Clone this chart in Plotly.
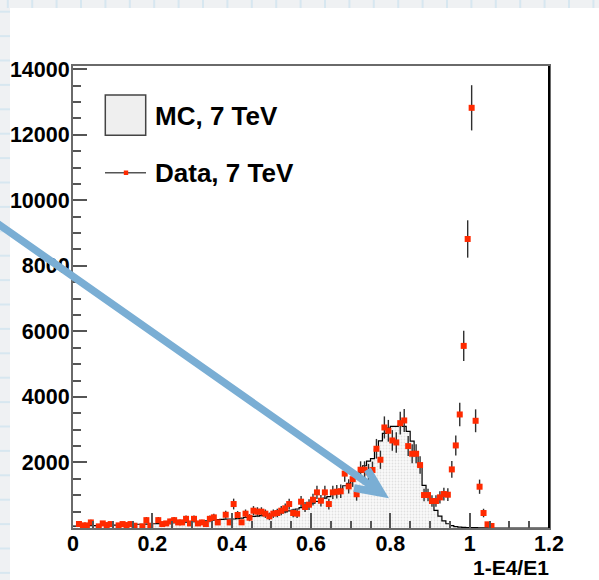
import plotly.graph_objects as go

# ---- histogram binning: 120 bins of width 0.01 on [0, 1.2] ----
bin_width = 0.01
bin_edges = [round(i * bin_width, 3) for i in range(121)]
bin_centers = [round(e + bin_width / 2, 4) for e in bin_edges[:-1]]

# ---- MC, 7 TeV (filled histogram, counts per bin) ----
mc_counts = [
    60, 65, 70, 70, 75, 75, 80, 85, 85, 90,            # 0.00 - 0.09
    90, 95, 100, 105, 105, 110, 115, 115, 120, 125,    # 0.10 - 0.19
    130, 135, 140, 145, 150, 160, 165, 170, 175, 180,  # 0.20 - 0.29
    190, 195, 205, 215, 235, 245, 255, 265, 270, 275,  # 0.30 - 0.39
    275, 285, 300, 320, 340, 355, 365, 375, 390, 405,  # 0.40 - 0.49
    420, 440, 460, 490, 520, 545, 580, 620, 660, 700,  # 0.50 - 0.59
    760, 810, 860, 910, 960, 1040, 1090, 1180, 1290, 1360,      # 0.60 - 0.69
    1430, 1560, 1700, 1900, 2040, 2120, 2400, 2660, 2890, 3050,  # 0.70 - 0.79
    3100, 3100, 3130, 3100, 2950, 2650, 2280, 1880, 1300, 980,   # 0.80 - 0.89
    750, 540, 360, 220, 130, 70, 40, 25, 20, 15,       # 0.90 - 0.99
    12, 10, 8, 5, 3, 0, 0, 0, 0, 0,                    # 1.00 - 1.09
    0, 0, 0, 0, 0, 0, 0, 0, 0, 0,                      # 1.10 - 1.19
]

# ---- Data, 7 TeV (points with uncertainties) ----
data_x = [
    0.015, 0.025, 0.035, 0.045, 0.065, 0.075, 0.085, 0.095, 0.115, 0.125,
    0.135, 0.145, 0.155, 0.175, 0.185, 0.195, 0.215, 0.225, 0.235, 0.245,
    0.255, 0.265, 0.275, 0.285, 0.295, 0.305, 0.315, 0.325, 0.335, 0.345,
    0.355, 0.365, 0.385, 0.395, 0.405, 0.415, 0.425, 0.435, 0.445, 0.455,
    0.465, 0.475, 0.485, 0.495, 0.505, 0.515, 0.525, 0.535, 0.545, 0.555,
    0.565, 0.575, 0.585, 0.595, 0.605, 0.615, 0.625, 0.635, 0.645, 0.655,
    0.665, 0.675, 0.685, 0.695, 0.705, 0.715, 0.725, 0.735, 0.745, 0.755,
    0.765, 0.775, 0.785, 0.795, 0.805, 0.815, 0.825, 0.835, 0.845, 0.855,
    0.865, 0.875, 0.885, 0.895, 0.905, 0.915, 0.925, 0.935, 0.945, 0.955,
    0.965, 0.975, 0.985, 0.995, 1.005, 1.015, 1.025, 1.035, 1.045, 1.055,
]
data_y = [
    122, 80, 80, 170, 50, 140, 90, 120, 80, 120,
    90, 120, 70, 50, 240, 70, 240, 120, 140, 200,
    240, 170, 170, 280, 140, 280, 140, 170, 120, 280,
    325, 170, 405, 170, 731, 396, 173, 437, 315, 528,
    498, 498, 437, 356, 437, 457, 528, 600, 731, 457,
    437, 803, 640, 711, 864, 1087, 833, 1087, 731, 1087,
    1107, 1120, 1660, 1270, 1490, 1030, 1778, 1778, 1700, 1770,
    2418, 2083, 3068, 2967, 2672, 2611, 3200, 3282, 2499, 2266,
    2266, 1920, 1006, 1006, 823, 823, 935, 1036, 1016, 1788,
    2520, 3465, 5558, 8821, 12824, 3272, 1260, 457, 112, 61,
]
data_err = [
    67, 55, 55, 80, 43, 72, 58, 67, 55, 67,
    58, 67, 51, 43, 95, 51, 95, 67, 72, 86,
    95, 80, 80, 102, 72, 102, 72, 80, 67, 102,
    110, 80, 123, 80, 165, 121, 80, 128, 108, 140,
    136, 136, 128, 115, 128, 130, 140, 149, 165, 130,
    128, 173, 154, 163, 179, 201, 176, 201, 165, 201,
    203, 204, 249, 217, 235, 196, 257, 257, 252, 257,
    300, 278, 338, 332, 315, 312, 345, 349, 305, 290,
    290, 267, 193, 193, 175, 175, 187, 196, 194, 258,
    306, 359, 460, 570, 690, 349, 217, 130, 65, 48,
]

x_tick_step = 0.2
y_tick_values = [2000, 4000, 6000, 8000, 10000, 12000, 14000]

FONT = "Liberation Sans, Arial, Helvetica, sans-serif"
RED = "#ff2a00"
ARROW = "#7aaed4"

# frame of the plotting area in page pixels
FL, FR, FT, FB = 73, 549, 66, 528
FW, FH = FR - FL, FB - FT


def px(x):
    return (x - FL) / FW


def py(y):
    return (FB - y) / FH


fig = go.Figure()

fig.add_trace(go.Bar(
    x=bin_centers, y=mc_counts, width=bin_width,
    marker=dict(color="#f8f8f8", line_width=0,
                pattern=dict(shape=".", fgcolor="#c6c6c6", bgcolor="#fafafa",
                             size=3, solidity=0.3)),
    hoverinfo="skip", showlegend=False,
))

fig.add_trace(go.Scatter(
    x=bin_edges, y=mc_counts + [mc_counts[-1]], mode="lines",
    line=dict(color="black", width=1.2, shape="hv"),
    hoverinfo="skip", showlegend=False,
))

fig.add_trace(go.Scatter(
    x=data_x, y=data_y, mode="markers",
    marker=dict(symbol="square", size=6, color=RED, line_width=0),
    error_y=dict(type="data", array=data_err, visible=True,
                 color="#2f2f2f", thickness=1.4, width=0),
    showlegend=False,
))

shapes = []

# slide background strips with faint grid paper lines
strip = "#eff1f3"
gridc = "#d7e7f0"
shapes.append(dict(type="rect", xref="paper", yref="paper", layer="below",
                   x0=px(0), x1=px(10), y0=py(580), y1=py(0),
                   fillcolor=strip, line_width=0))
shapes.append(dict(type="rect", xref="paper", yref="paper", layer="below",
                   x0=px(0), x1=px(599), y0=py(8), y1=py(0),
                   fillcolor=strip, line_width=0))
gx = 7.8
while gx < 599:
    shapes.append(dict(type="line", xref="paper", yref="paper", layer="below",
                       x0=px(gx), x1=px(gx), y0=py(0), y1=py(8),
                       line=dict(color=gridc, width=2)))
    gx += 24.4
gy = 11.7
while gy < 580:
    shapes.append(dict(type="line", xref="paper", yref="paper", layer="below",
                       x0=px(0), x1=px(10), y0=py(gy), y1=py(gy),
                       line=dict(color=gridc, width=2)))
    gy += 24.4

# right frame edge
shapes.append(dict(type="line", xref="paper", yref="paper",
                   x0=1, x1=1, y0=0, y1=1, line=dict(color="black", width=2)))

# legend swatches
shapes.append(dict(type="rect", xref="paper", yref="paper",
                   x0=px(105.3), x1=px(145.7), y0=py(135.3), y1=py(95),
                   fillcolor="#efefef", line=dict(color="#444", width=1.5)))
shapes.append(dict(type="line", xref="paper", yref="paper",
                   x0=px(105), x1=px(146), y0=py(172.7), y1=py(172.7),
                   line=dict(color="#555", width=1.5)))
shapes.append(dict(type="rect", xref="paper", yref="paper",
                   x0=px(123.8), x1=px(128.2), y0=py(175), y1=py(170.5),
                   fillcolor=RED, line_width=0))

# highlight arrow
tip = (381.5, 493)
shapes.append(dict(
    type="path", xref="paper", yref="paper", layer="above",
    path=(f"M {px(-6)},{py(221)} L {px(tip[0])},{py(tip[1])} "
          f"M {px(354)},{py(488)} L {px(tip[0])},{py(tip[1])} L {px(367.5)},{py(469.5)}"),
    line=dict(color=ARROW, width=7.5),
))

annotations = [
    dict(text="MC, 7 TeV", xref="paper", yref="paper", x=px(153), y=py(116),
         xanchor="left", yanchor="middle", showarrow=False,
         font=dict(family=FONT, size=26, color="black", weight="bold")),
    dict(text="Data, 7 TeV", xref="paper", yref="paper", x=px(153), y=py(173),
         xanchor="left", yanchor="middle", showarrow=False,
         font=dict(family=FONT, size=26, color="black", weight="bold")),
    dict(text="1-E4/E1", xref="paper", yref="paper", x=px(551), y=py(567),
         xanchor="right", yanchor="middle", showarrow=False,
         font=dict(family=FONT, size=21, color="black", weight="bold")),
]

tickfont = dict(family=FONT, size=21.5, color="black", weight="bold")

fig.update_layout(
    width=599, height=580, autosize=False,
    margin=dict(l=FL, r=599 - FR, t=FT, b=580 - FB, pad=0),
    paper_bgcolor="white", plot_bgcolor="white",
    bargap=0, showlegend=False,
    shapes=shapes, annotations=annotations,
    xaxis=dict(
        range=[0, 1.2], tick0=0, dtick=x_tick_step, automargin=False,
        ticks="inside", ticklen=15, tickwidth=1.5, tickcolor="#555",
        ticklabelstandoff=-5,
        minor=dict(ticks="inside", ticklen=7, tickwidth=1.5, tickcolor="#555",
                   tick0=0, dtick=0.05, showgrid=False),
        showgrid=False, zeroline=False,
        showline=True, linecolor="#6a6a6a", linewidth=2, mirror=True,
        tickfont=tickfont,
    ),
    yaxis=dict(
        range=[0, 14100], tickmode="array", tickvals=y_tick_values,
        tickformat="d", automargin=False, ticklabelstandoff=-3,
        ticks="inside", ticklen=14, tickwidth=1.5, tickcolor="#555",
        minor=dict(ticks="inside", ticklen=7.5, tickwidth=1.5, tickcolor="#555",
                   tickmode="linear", tick0=0, dtick=500, showgrid=False),
        showgrid=False, zeroline=False,
        showline=True, linecolor="#6a6a6a", linewidth=2, mirror=True,
        tickfont=tickfont,
    ),
)

fig.write_html("out.html")
